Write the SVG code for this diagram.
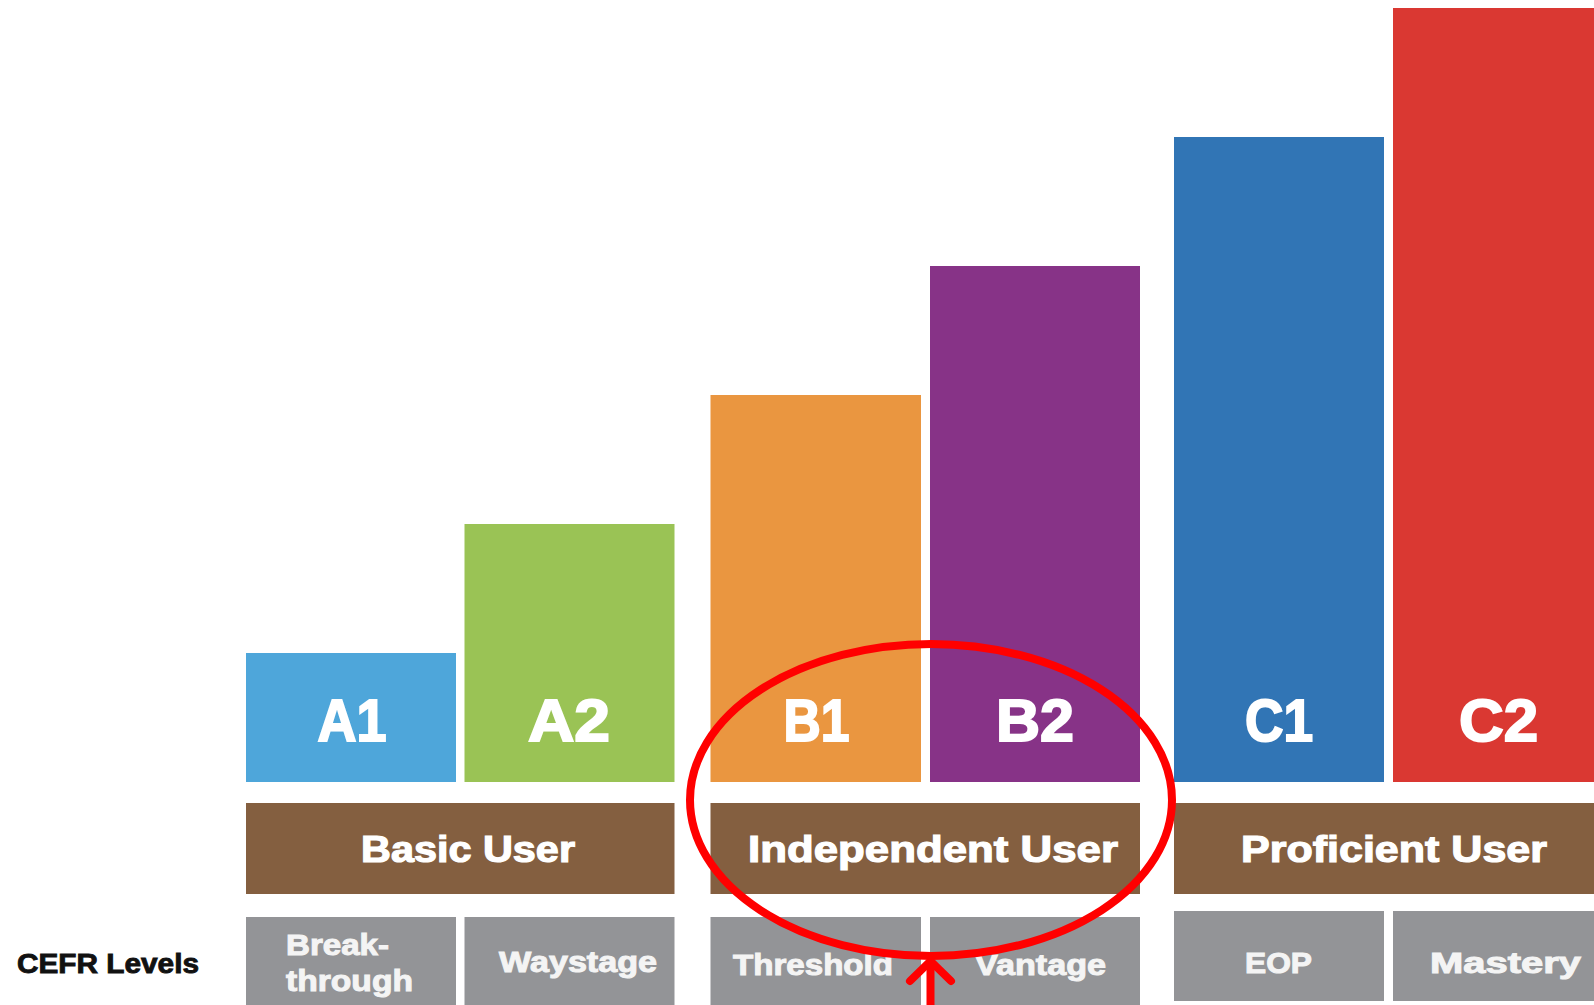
<svg xmlns="http://www.w3.org/2000/svg" width="1594" height="1005" viewBox="0 0 1594 1005">
<style>
.lvl{font-family:"Liberation Sans",Arial,sans-serif;font-weight:bold;font-size:60px;fill:#fff;stroke:#fff;stroke-width:2;text-anchor:middle}
.grp{font-family:"Liberation Sans",Arial,sans-serif;font-weight:bold;font-size:37px;fill:#fff;stroke:#fff;stroke-width:1.2;text-anchor:middle}
.sub{font-family:"Liberation Sans",Arial,sans-serif;font-weight:bold;font-size:29px;fill:#f4f4f4;stroke:#f4f4f4;stroke-width:1}
.brown{fill:#845F40}
.gray{fill:#939497}
.mark{fill:none;stroke:#FF0000;stroke-width:8;stroke-linecap:round;stroke-linejoin:round}
</style>
<rect width="1594" height="1005" fill="#fff"/>
<g id="label-cefr">
<text x="17" y="973" font-family="Liberation Sans,Arial,sans-serif" font-weight="bold" font-size="28" fill="#111" stroke="#111" stroke-width="0.9" textLength="182" lengthAdjust="spacingAndGlyphs">CEFR Levels</text>
</g>
<g id="bar-A1"><rect x="246" y="653" width="210" height="129" fill="#4EA6DA"/><text class="lvl" x="352" y="741" textLength="69" lengthAdjust="spacingAndGlyphs">A1</text></g>
<g id="bar-A2"><rect x="464.5" y="524" width="210" height="258" fill="#9AC355"/><text class="lvl" x="569" y="741" textLength="82" lengthAdjust="spacingAndGlyphs">A2</text></g>
<g id="bar-B1"><rect x="710.5" y="395" width="210.5" height="387" fill="#EA9640"/><text class="lvl" x="816.5" y="741" textLength="66" lengthAdjust="spacingAndGlyphs">B1</text></g>
<g id="bar-B2"><rect x="930" y="266" width="210" height="516" fill="#873387"/><text class="lvl" x="1035" y="741" textLength="78" lengthAdjust="spacingAndGlyphs">B2</text></g>
<g id="bar-C1"><rect x="1174" y="137" width="210" height="645" fill="#3175B5"/><text class="lvl" x="1279" y="741" textLength="68" lengthAdjust="spacingAndGlyphs">C1</text></g>
<g id="bar-C2"><rect x="1393" y="8" width="210" height="774" fill="#DA3832"/><text class="lvl" x="1498.5" y="741" textLength="79" lengthAdjust="spacingAndGlyphs">C2</text></g>
<g id="group-basic"><rect class="brown" x="246" y="803" width="428.5" height="91"/><text class="grp" x="468" y="862" textLength="214" lengthAdjust="spacingAndGlyphs">Basic User</text></g>
<g id="group-independent"><rect class="brown" x="710.5" y="803" width="429.5" height="91"/><text class="grp" x="933" y="862" textLength="370" lengthAdjust="spacingAndGlyphs">Independent User</text></g>
<g id="group-proficient"><rect class="brown" x="1174" y="803" width="429" height="91"/><text class="grp" x="1394" y="862" textLength="306" lengthAdjust="spacingAndGlyphs">Proficient User</text></g>
<g id="name-breakthrough"><rect class="gray" x="246" y="917" width="210" height="88"/><text class="sub" x="286" y="955" textLength="103" lengthAdjust="spacingAndGlyphs">Break-</text><text class="sub" x="286" y="991" textLength="127" lengthAdjust="spacingAndGlyphs">through</text></g>
<g id="name-waystage"><rect class="gray" x="464.5" y="917" width="210" height="88"/><text class="sub" x="499" y="972" textLength="158" lengthAdjust="spacingAndGlyphs">Waystage</text></g>
<g id="name-threshold"><rect class="gray" x="710.5" y="917" width="210.5" height="88"/><text class="sub" x="733" y="975" textLength="160" lengthAdjust="spacingAndGlyphs">Threshold</text></g>
<g id="name-vantage"><rect class="gray" x="930" y="917" width="210" height="88"/><text class="sub" x="975" y="975" textLength="131" lengthAdjust="spacingAndGlyphs">Vantage</text></g>
<g id="name-eop"><rect class="gray" x="1174" y="911" width="210" height="90"/><text class="sub" x="1245" y="973" textLength="67" lengthAdjust="spacingAndGlyphs">EOP</text></g>
<g id="name-mastery"><rect class="gray" x="1393" y="911" width="210" height="90"/><text class="sub" x="1430" y="973" textLength="151" lengthAdjust="spacingAndGlyphs">Mastery</text></g>
<g id="highlight"><ellipse class="mark" cx="931" cy="800" rx="241" ry="156"/></g>
<g id="connectors">
<path class="mark" d="M930.5 1010 V963"/>
<path class="mark" d="M910 981 L930.5 961 L951 981"/>
</g>
</svg>
